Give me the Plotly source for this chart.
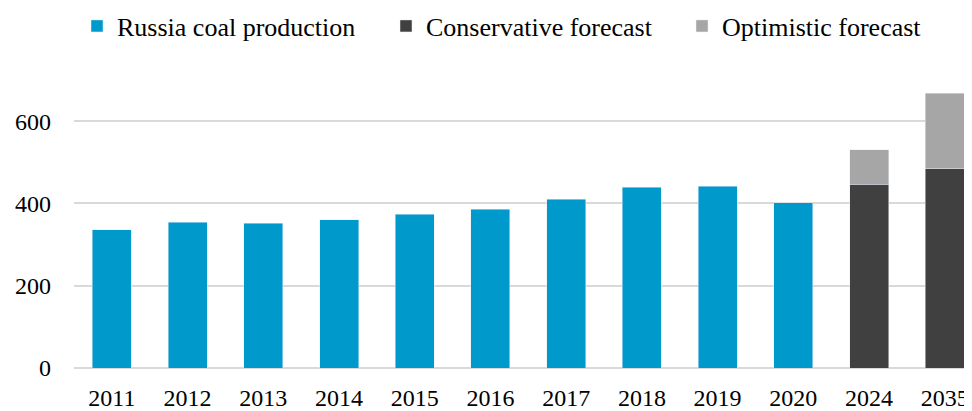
import plotly.graph_objects as go

categories = ["2011", "2012", "2013", "2014", "2015", "2016", "2017", "2018", "2019", "2020", "2024", "2035"]
production = [336, 354, 352, 360, 374, 386, 410, 439, 442, 402, None, None]
conservative = [None] * 10 + [447, 484]
optimistic_extra = [None] * 10 + [83, 184]
y_ticks = [0, 200, 400, 600]

font_family = "Liberation Serif, Times New Roman, serif"
W, H = 972, 411

fig = go.Figure()
fig.add_trace(go.Bar(x=categories, y=production, name="Russia coal production",
                     marker_color="#0099CC", width=0.515, legend="legend", showlegend=True))
fig.add_trace(go.Bar(x=categories, y=conservative, name="Conservative forecast",
                     marker_color="#404040", width=0.515, legend="legend2", showlegend=True))
fig.add_trace(go.Bar(x=categories, y=optimistic_extra, name="Optimistic forecast",
                     marker_color="#A6A6A6", width=0.515, legend="legend3", showlegend=True))

def leg(px):
    return dict(orientation="h", xref="container", yref="container",
                x=px / W, xanchor="left", y=1 - 18 / H, yanchor="middle",
                font=dict(family=font_family, size=26, color="black"),
                bgcolor="rgba(0,0,0,0)", borderwidth=0)

fig.update_layout(
    width=W, height=H,
    barmode="stack",
    showlegend=True,
    plot_bgcolor="white", paper_bgcolor="white",
    margin=dict(l=66, r=8, t=72, b=51),
    font=dict(family=font_family, size=24, color="black"),
    legend=leg(69), legend2=leg(378), legend3=leg(674),
    xaxis=dict(type="category", range=[-0.5, 11.36], showgrid=False, showline=False,
               ticks="", ticklabelstandoff=13, automargin=False),
    yaxis=dict(range=[0, 700], tickvals=y_ticks, showgrid=True, gridcolor="#D9D9D9",
               gridwidth=1.5, zeroline=True, zerolinecolor="#D9D9D9", zerolinewidth=1.5,
               showline=False, ticks="", ticklabelstandoff=22, automargin=False),
)

fig.write_html("out.html")
